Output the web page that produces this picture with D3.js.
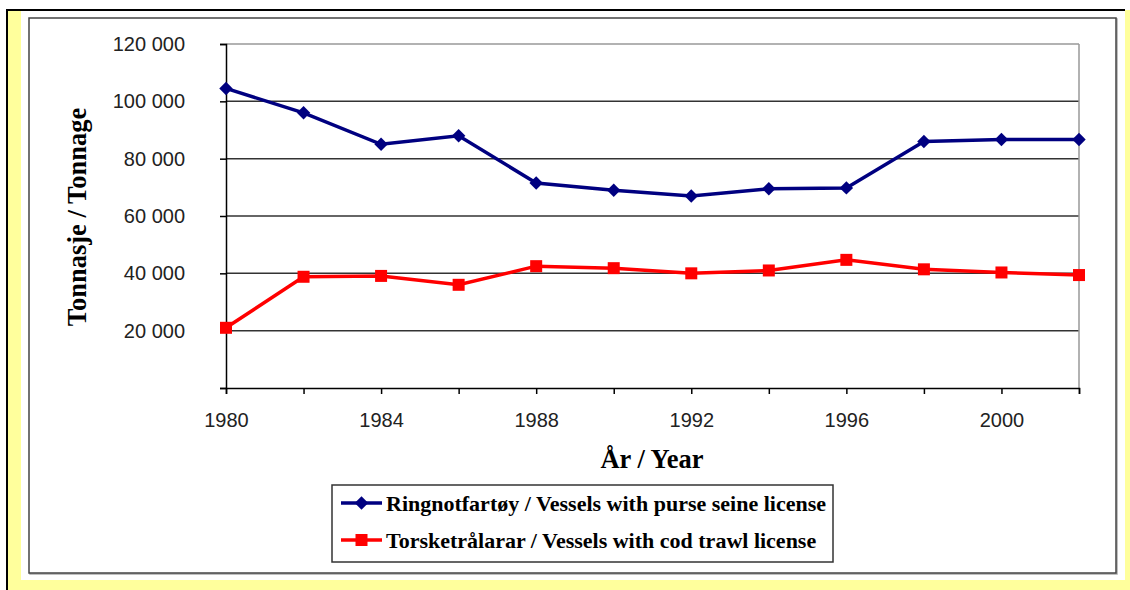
<!DOCTYPE html>
<html>
<head>
<meta charset="utf-8">
<script src="https://cdn.jsdelivr.net/npm/d3@7"></script>
<style>
  body { margin: 0; background: #fff; }
  svg { display: block; }
</style>
</head>
<body>
<svg width="1130" height="590"></svg>
<script>
// data
var years = [1980, 1982, 1984, 1986, 1988, 1990, 1992, 1994, 1996, 1998, 2000, 2002];
var purseSeine = [104500, 96000, 85000, 88000, 71500, 69000, 67000, 69500, 69800, 86000, 86700, 86700];
var codTrawl = [21000, 38800, 39100, 36000, 42500, 41800, 40000, 41000, 44700, 41400, 40300, 39400];
var yTicks = [0, 20000, 40000, 60000, 80000, 100000, 120000];
var xLabelYears = [1980, 1984, 1988, 1992, 1996, 2000];
var seriesNames = ["Ringnotfartøy / Vessels with purse seine license", "Torsketrålarar / Vessels with cod trawl license"];

var svgWidth = 1130, svgHeight = 590;
var svg = d3.select("svg");

// page frame: yellow strip, black edge, white sheet
svg.append("rect").attr("x", 7).attr("y", 10).attr("width", svgWidth - 7).attr("height", svgHeight - 10).attr("fill", "#ffff9c");
svg.append("rect").attr("x", 21).attr("y", 11).attr("width", 1104).attr("height", 569).attr("fill", "#fff");
svg.append("line").attr("x1", 7).attr("x2", 1125).attr("y1", 10).attr("y2", 10).attr("stroke", "#000").attr("stroke-width", 2);
svg.append("line").attr("x1", 7).attr("x2", 7).attr("y1", 9).attr("y2", 590).attr("stroke", "#000").attr("stroke-width", 2);

// chart frame with a small shadow
svg.append("rect").attr("x", 30).attr("y", 19).attr("width", 1087).attr("height", 555).attr("fill", "none").attr("stroke", "#aaa").attr("stroke-width", 1.5);
svg.append("rect").attr("x", 29).attr("y", 18).attr("width", 1087).attr("height", 555).attr("fill", "#fff").attr("stroke", "#444").attr("stroke-width", 1.5);

var x = d3.scaleLinear().domain([1980, 2002]).range([226, 1079]);
var y = d3.scaleLinear().domain([0, 120000]).range([388, 44]);

var fmt = d3.formatLocale({decimal: ",", thousands: " ", grouping: [3], currency: ["", ""]}).format(",");

// gridlines
svg.append("g").selectAll("line")
  .data(yTicks.filter(function(d) { return d > 0; }))
  .enter().append("line")
  .attr("x1", x(1980)).attr("x2", x(2002))
  .attr("y1", function(d) { return y(d); })
  .attr("y2", function(d) { return y(d); })
  .attr("stroke", function(d) { return d == 120000 ? "#999" : "#333"; })
  .attr("stroke-width", 1.5);

// right border of plot area
svg.append("line").attr("x1", x(2002)).attr("x2", x(2002)).attr("y1", y(120000)).attr("y2", y(0))
  .attr("stroke", "#999").attr("stroke-width", 1.5);

var yAxis = svg.append("g").attr("transform", "translate(" + x(1980) + ",0)")
  .call(d3.axisLeft(y).tickValues(yTicks).tickSize(6).tickPadding(35)
    .tickFormat(function(d) { return d == 0 ? "" : fmt(d); }));

var xAxis = svg.append("g").attr("transform", "translate(0," + y(0) + ")")
  .call(d3.axisBottom(x).tickValues(years).tickSize(6).tickPadding(19)
    .tickFormat(function(d) { return xLabelYears.indexOf(d) >= 0 ? d : ""; }));

[yAxis, xAxis].forEach(function(g) {
  g.select(".domain").attr("stroke", "#000").attr("stroke-width", 1.5);
  g.selectAll(".tick line").attr("stroke", "#000").attr("stroke-width", 1.5);
  g.selectAll("text").attr("font-family", "Liberation Sans, Arial, sans-serif")
    .attr("font-size", 20).attr("fill", "#222");
});

// axis titles
svg.append("text")
  .attr("transform", "translate(86,217) rotate(-90)")
  .attr("text-anchor", "middle")
  .attr("font-family", "Liberation Serif, Times New Roman, serif")
  .attr("font-weight", "bold").attr("font-size", 26.5)
  .text("Tonnasje / Tonnage");

svg.append("text")
  .attr("x", 652).attr("y", 468)
  .attr("text-anchor", "middle")
  .attr("font-family", "Liberation Serif, Times New Roman, serif")
  .attr("font-weight", "bold").attr("font-size", 26.5)
  .text("År / Year");

// lines
var line = d3.line()
  .x(function(d) { return x(d[0]); })
  .y(function(d) { return y(d[1]); });

var blueData = d3.zip(years, purseSeine);
var redData = d3.zip(years, codTrawl);

svg.append("path").datum(blueData).attr("d", line)
  .attr("fill", "none").attr("stroke", "#000080").attr("stroke-width", 3.5);
svg.append("path").datum(redData).attr("d", line)
  .attr("fill", "none").attr("stroke", "#ff0000").attr("stroke-width", 3.5);

var diamond = d3.symbol().type(d3.symbolDiamond2).size(115);

svg.append("g").selectAll("path")
  .data(blueData)
  .enter().append("path")
  .attr("d", diamond)
  .attr("transform", function(d) { return "translate(" + x(d[0]) + "," + y(d[1]) + ")"; })
  .attr("fill", "#000080");

svg.append("g").selectAll("rect")
  .data(redData)
  .enter().append("rect")
  .attr("x", function(d) { return x(d[0]) - 6; })
  .attr("y", function(d) { return y(d[1]) - 6; })
  .attr("width", 12).attr("height", 12)
  .attr("fill", "#ff0000");

// legend
var legend = svg.append("g");
legend.append("rect").attr("x", 332).attr("y", 485).attr("width", 501).attr("height", 77)
  .attr("fill", "#fff").attr("stroke", "#333").attr("stroke-width", 1.5);

var colors = ["#000080", "#ff0000"];
var rowY = [503, 540];
seriesNames.forEach(function(name, i) {
  legend.append("line").attr("x1", 341).attr("x2", 382).attr("y1", rowY[i]).attr("y2", rowY[i])
    .attr("stroke", colors[i]).attr("stroke-width", 3.5);
  if (i == 0) {
    legend.append("path").attr("d", diamond)
      .attr("transform", "translate(361.5," + rowY[i] + ")").attr("fill", colors[i]);
  } else {
    legend.append("rect").attr("x", 355.5).attr("y", rowY[i] - 6).attr("width", 12).attr("height", 12)
      .attr("fill", colors[i]);
  }
  legend.append("text").attr("x", 386).attr("y", rowY[i] + 8)
    .attr("font-family", "Liberation Serif, Times New Roman, serif")
    .attr("font-weight", "bold").attr("font-size", 22)
    .text(name);
});
</script>
</body>
</html>
